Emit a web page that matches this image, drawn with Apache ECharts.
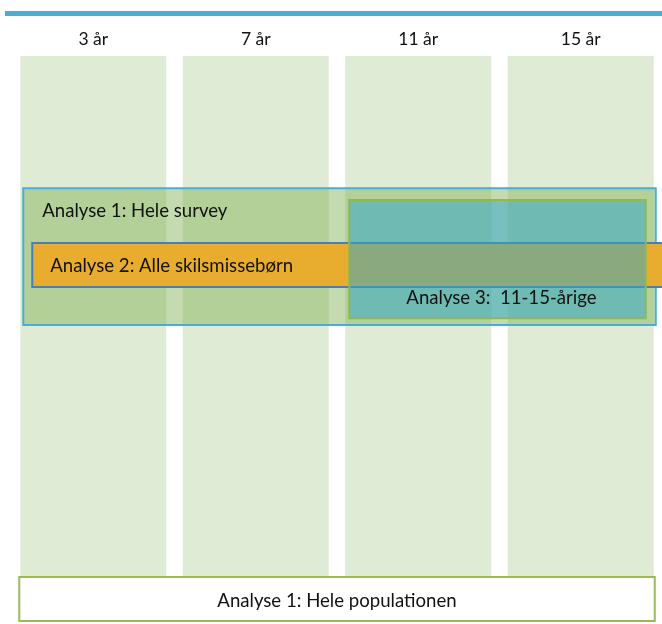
<!DOCTYPE html>
<html>
<head>
<meta charset="utf-8">
<script src="https://cdn.jsdelivr.net/npm/echarts@6/dist/echarts.min.js"></script>
<style>
html,body{margin:0;padding:0;background:#fff;}
#chart{width:662px;height:624px;}
</style>
</head>
<body>
<div id="chart"></div>
<script>
// ---- data ----
var ages = ['3 år', '7 år', '11 år', '15 år'];
var columnCoverage = [1, 1, 1, 1];            // every age wave is in the survey
var analysisLabels = ['Analyse 1: Hele survey', 'Analyse 2: Alle skilsmissebørn', 'Analyse 3:  11-15-årige', 'Analyse 1: Hele populationen'];
var spanFrom = [0, 0, 2, 0];                  // first age wave covered (index in ages)
var spanTo   = [3, 3, 3, 3];                  // last age wave covered

// ---- layout / style (not data) ----
var FONT = '18.6px Lato';
var BAR_W = 146;
var COL_BOTTOM = 92.2;   // y units (0 top .. 100 bottom)
var boxes = [
  { top: 23.4, bottom: 47.6, dl: 3,  dr: 2,  fill: 'rgba(122,176,78,0.45)', stroke: '#4BACD6', lw: 2, text: 'left-top', tx: 19, ty: 23, z: 2 },
  { top: 33.1, bottom: 40.9, dl: 12, dr: 12, fill: '#E8AC2E', stroke: '#4A7EBB', lw: 2, text: 'left-mid', tx: 18, ty: 0, z: 3 },
  { top: 25.5, bottom: 46.4, dl: 4,  dr: -8, fill: 'rgba(43,165,205,0.5)', stroke: '#8DB854', lw: 2, text: 'center-bottom', tx: 4, ty: 20, z: 4 },
  { top: 92.2, bottom: 100,  dl: -1, dr: 1,  fill: '#ffffff', stroke: '#9BBB59', lw: 2, text: 'center-mid', tx: 0, ty: 0, z: 5 }
];

var chart = echarts.init(document.getElementById('chart'), null, { renderer: 'canvas' });

function boxSeries(i) {
  var b = boxes[i];
  return {
    type: 'custom',
    z: b.z,
    clip: false,
    silent: true,
    data: [[spanFrom[i], spanTo[i]]],
    encode: { x: [0, 1] },
    renderItem: function (params, api) {
      var x0 = api.coord([api.value(0), 0])[0] - BAR_W / 2 + b.dl;
      var x1 = api.coord([api.value(1), 0])[0] + BAR_W / 2 + b.dr;
      var y0 = api.coord([0, b.top])[1];
      var y1 = api.coord([0, b.bottom])[1];
      var tx, ty, align, valign = 'middle';
      if (b.text === 'left-top') { tx = x0 + b.tx; ty = y0 + b.ty; align = 'left'; }
      else if (b.text === 'left-mid') { tx = x0 + b.tx; ty = (y0 + y1) / 2 + 1; align = 'left'; }
      else if (b.text === 'center-bottom') { tx = (x0 + x1) / 2 + b.tx; ty = y1 - b.ty; align = 'center'; }
      else { tx = (x0 + x1) / 2; ty = (y0 + y1) / 2 + 2; align = 'center'; }
      return {
        type: 'group',
        children: [
          { type: 'rect', shape: { x: x0, y: y0, width: x1 - x0, height: y1 - y0 },
            style: { fill: b.fill, stroke: b.stroke, lineWidth: b.lw } },
          { type: 'text', style: { text: analysisLabels[i], x: tx, y: ty, fill: '#111',
            font: FONT, align: align, verticalAlign: valign, textAlign: align, textVerticalAlign: valign } }
        ]
      };
    }
  };
}

var option = {
  backgroundColor: '#ffffff',
  animation: false,
  grid: { left: 12, right: 0, top: 56, bottom: 3 },
  graphic: [
    { type: 'rect', left: 5, top: 11, shape: { width: 657, height: 5 }, style: { fill: '#4BACD6' }, silent: true }
  ],
  xAxis: {
    type: 'category',
    data: ages,
    position: 'top',
    boundaryGap: true,
    axisLine: { show: false },
    axisTick: { show: false },
    axisLabel: { margin: 8, color: '#111', fontFamily: 'Lato', fontSize: 17.5 },
    splitLine: { show: false }
  },
  yAxis: {
    type: 'value', min: 0, max: 100, inverse: true, show: false
  },
  series: [
    {
      type: 'bar',
      z: 1,
      silent: true,
      barWidth: BAR_W,
      data: columnCoverage.map(function (v) { return v * COL_BOTTOM; }),
      itemStyle: { color: '#E0EBD5' }
    },
    boxSeries(0), boxSeries(1), boxSeries(2), boxSeries(3)
  ]
};
chart.setOption(option);
</script>
</body>
</html>
